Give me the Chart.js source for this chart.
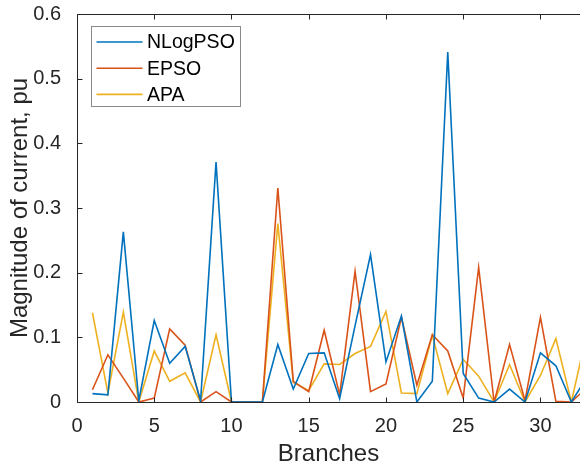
<!DOCTYPE html>
<html>
<head>
<meta charset="utf-8">
<script src="https://cdn.jsdelivr.net/npm/chart.js@4/dist/chart.umd.min.js"></script>
<style>
  html, body { margin: 0; padding: 0; background: #fff; }
  #wrap { width: 580px; height: 470px; }
</style>
</head>
<body>
<div id="wrap"><canvas id="chart" width="580" height="470"></canvas></div>
<script>
const branches = [1, 2, 3, 4, 5, 6, 7, 8, 9, 10, 11, 12, 13, 14, 15, 16, 17, 18, 19, 20, 21, 22, 23, 24, 25, 26, 27, 28, 29, 30, 31, 32, 33];
const nlogpso = [0.013, 0.011, 0.263, 0.002, 0.126, 0.060, 0.086, 0.002, 0.371, 0, 0, 0, 0.089, 0.020, 0.075, 0.076, 0.005, 0.118, 0.228, 0.062, 0.133, 0, 0.032, 0.541, 0.044, 0.006, 0, 0.020, 0, 0.076, 0.056, 0, 0.038];
const epso = [0.019, 0.073, 0.037, 0, 0.006, 0.113, 0.088, 0, 0.016, 0, 0, 0, 0.331, 0.032, 0.016, 0.111, 0.011, 0.202, 0.016, 0.028, 0.131, 0.026, 0.104, 0.079, 0.006, 0.208, 0, 0.089, 0.002, 0.131, 0.001, 0, 0.022];
const apa = [0.138, 0.014, 0.139, 0, 0.079, 0.032, 0.045, 0, 0.104, 0, 0, 0, 0.276, 0.030, 0.018, 0.059, 0.058, 0.075, 0.086, 0.140, 0.014, 0.013, 0.103, 0.013, 0.066, 0.040, 0, 0.058, 0, 0.041, 0.098, 0, 0.106];
const xTicks = [0, 5, 10, 15, 20, 25, 30];
const yTicks = [0, 0.1, 0.2, 0.3, 0.4, 0.5, 0.6];

const FONT = "'Liberation Sans', Arial, Helvetica, sans-serif";
const AXIS_COLOR = '#262626';

function points(values) {
    return branches.map((b, i) => ({ x: b, y: values[i] }));
}

// matlab style box: left/top/bottom lines with inward ticks
const axesBox = {
    id: 'axesBox',
    afterDatasetsDraw(chart) {
        const ctx = chart.ctx;
        const a = chart.chartArea;
        const xs = chart.scales.x, ys = chart.scales.y;
        const L = Math.round(a.left) + 0.5, T = Math.round(a.top) + 0.5, B = Math.round(a.bottom) + 0.5;
        ctx.save();
        ctx.strokeStyle = AXIS_COLOR;
        ctx.lineWidth = 1;
        ctx.beginPath();
        ctx.moveTo(a.right + 5, T); ctx.lineTo(L, T); ctx.lineTo(L, B); ctx.lineTo(a.right + 5, B);
        xTicks.forEach(v => {
            const px = Math.round(xs.getPixelForValue(v)) + 0.5;
            ctx.moveTo(px, B); ctx.lineTo(px, B - 5);
            ctx.moveTo(px, T); ctx.lineTo(px, T + 5);
        });
        yTicks.forEach(v => {
            const py = Math.round(ys.getPixelForValue(v)) + 0.5;
            ctx.moveTo(L, py); ctx.lineTo(L + 5, py);
        });
        ctx.stroke();
        ctx.restore();
    }
};

const boxLegend = {
    id: 'boxLegend',
    afterDraw(chart) {
        const ctx = chart.ctx;
        const a = chart.chartArea;
        const left = a.left + 14.5, top = a.top + 12.5;
        ctx.save();
        ctx.fillStyle = '#fff';
        ctx.fillRect(left, top, 149, 80);
        ctx.strokeStyle = '#8a8a8a';
        ctx.lineWidth = 1;
        ctx.strokeRect(left, top, 149, 80);
        ctx.font = '19.5px ' + FONT;
        ctx.textBaseline = 'middle';
        chart.data.datasets.forEach((ds, i) => {
            const y = top + 15.5 + i * 26.2;
            ctx.strokeStyle = ds.borderColor;
            ctx.lineWidth = 1.6;
            ctx.beginPath();
            ctx.moveTo(left + 5, y);
            ctx.lineTo(left + 51, y);
            ctx.stroke();
            ctx.fillStyle = '#000';
            ctx.fillText(ds.label, left + 55.5, y + 1);
        });
        ctx.restore();
    }
};

new Chart(document.getElementById('chart').getContext('2d'), {
    type: 'line',
    data: {
        datasets: [
            { label: 'NLogPSO', data: points(nlogpso), borderColor: '#0072BD', borderWidth: 1.6, pointRadius: 0, fill: false, tension: 0 },
            { label: 'EPSO', data: points(epso), borderColor: '#D95319', borderWidth: 1.6, pointRadius: 0, fill: false, tension: 0 },
            { label: 'APA', data: points(apa), borderColor: '#EDB120', borderWidth: 1.6, pointRadius: 0, fill: false, tension: 0 }
        ]
    },
    options: {
        responsive: false,
        animation: false,
        layout: { padding: { top: 14, right: 0, left: 0, bottom: 0 } },
        plugins: {
            legend: { display: false },
            tooltip: { enabled: false }
        },
        scales: {
            x: {
                type: 'linear',
                min: 0,
                max: 32.56,
                afterBuildTicks(scale) { scale.ticks = xTicks.map(v => ({ value: v })); },
                afterFit(scale) {
                    scale.height = 68;
                    scale.paddingLeft = 0;
                    scale.paddingRight = 0;
                },
                grid: { display: false },
                border: { display: false },
                ticks: {
                    color: AXIS_COLOR,
                    font: { family: FONT, size: 20 },
                    padding: 4,
                    maxRotation: 0,
                    callback: v => String(v)
                },
                title: {
                    display: true,
                    text: 'Branches',
                    color: AXIS_COLOR,
                    font: { family: FONT, size: 24 },
                    padding: { top: 0, bottom: 1 }
                }
            },
            y: {
                min: 0,
                max: 0.6,
                afterBuildTicks(scale) { scale.ticks = yTicks.map(v => ({ value: v })); },
                afterFit(scale) {
                    scale.width = 77;
                    scale.paddingTop = 0;
                    scale.paddingBottom = 0;
                },
                grid: { display: false },
                border: { display: false },
                ticks: {
                    color: AXIS_COLOR,
                    font: { family: FONT, size: 20 },
                    padding: 8,
                    callback: v => String(v)
                },
                title: {
                    display: true,
                    text: 'Magnitude of current, pu',
                    color: AXIS_COLOR,
                    font: { family: FONT, size: 24 },
                    padding: { top: 6, bottom: 0 }
                }
            }
        }
    },
    plugins: [axesBox, boxLegend]
});
</script>
</body>
</html>
